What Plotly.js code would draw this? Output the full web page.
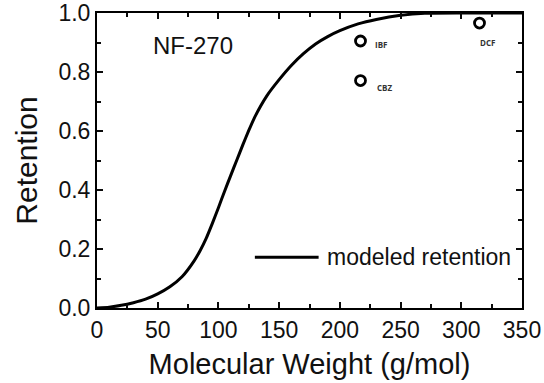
<!DOCTYPE html>
<html>
<head>
<meta charset="utf-8">
<script src="https://cdn.plot.ly/plotly-3.0.1.min.js"></script>
<style>html,body{margin:0;padding:0;background:#fff;}#chart{width:544px;height:383px;}</style>
</head>
<body>
<div id="chart"></div>
<script>
// Modeled retention curve
const modelMW = [0, 10, 20, 30, 40, 50, 60, 70, 80, 85, 90, 95, 100, 105, 110, 115, 120, 125, 130, 140, 150, 160, 170, 180, 190, 200, 215, 230, 250, 270, 300, 350];
const modelRet = [0, 0.003, 0.009, 0.018, 0.030, 0.048, 0.072, 0.106, 0.160, 0.195, 0.237, 0.287, 0.340, 0.395, 0.448, 0.500, 0.552, 0.602, 0.648, 0.720, 0.774, 0.822, 0.862, 0.895, 0.920, 0.940, 0.963, 0.978, 0.992, 0.999, 1.0, 1.0];

// Measured compounds
const compounds = ["IBF", "CBZ", "DCF"];
const compMW = [217, 217, 315];
const compRet = [0.905, 0.771, 0.966];

const FONT = "Liberation Sans, Arial, Helvetica, sans-serif";
const TICKC = "#0a0a0a";

const traces = [
  {x: modelMW, y: modelRet, type: "scatter", mode: "lines", line: {color: "#000", width: 3, shape: "spline", smoothing: 0.5}, name: "modeled retention", showlegend: false, hoverinfo: "skip"},
  {x: compMW, y: compRet, type: "scatter", mode: "markers", marker: {symbol: "circle-open", size: 10, color: "#000", line: {width: 2.8, color: "#000"}}, showlegend: false, cliponaxis: false}
];
// invisible copies so the extra tick axes are drawn
["2", "3", "4"].forEach(k => traces.push({x: modelMW, y: modelRet, xaxis: "x" + k, yaxis: "y" + k, type: "scatter", mode: "lines", line: {color: "rgba(0,0,0,0)", width: 0}, showlegend: false, hoverinfo: "skip"}));

// pixel shifts of the small labels relative to their markers
const labelShift = {IBF: [20, -3], CBZ: [24, -7], DCF: [8, -19]};
const annotations = compounds.map((c, i) => ({
  x: compMW[i], y: compRet[i], xref: "x", yref: "y", xshift: labelShift[c][0], yshift: labelShift[c][1],
  text: "<b>" + c + "</b>", showarrow: false, font: {family: "Open Sans, DejaVu Sans, sans-serif", size: 8, color: "#333"}
}));
annotations.push({x: 0.226, y: 0.891, xref: "paper", yref: "paper", text: "NF-270", showarrow: false, xanchor: "center", yanchor: "middle", font: {family: FONT, size: 24, color: "#111"}});
annotations.push({x: 187.8, y: 0.172, xref: "x", yref: "y", text: "modeled retention", showarrow: false, xanchor: "left", yanchor: "middle", font: {family: FONT, size: 23, color: "#111"}});

function tickAxis(base, extra) {
  return Object.assign({showticklabels: false, ticks: "inside", tickwidth: 2, tickcolor: TICKC, showline: false, showgrid: false, zeroline: false, tickmode: "linear"}, base, extra);
}

const layout = {
  width: 544, height: 383,
  margin: {l: 97, r: 22, t: 13, b: 75},
  paper_bgcolor: "#fff", plot_bgcolor: "rgba(0,0,0,0)",
  font: {family: FONT, color: "#111"},
  xaxis: {
    range: [0, 350], dtick: 50,
    ticks: "inside", ticklen: 6, tickwidth: 2, tickcolor: TICKC,
    showline: true, linecolor: "black", linewidth: 2, mirror: true, showgrid: false, zeroline: false,
    tickfont: {size: 23, family: FONT, color: "#111"},
    title: {text: "Molecular Weight (g/mol)", font: {size: 29, family: FONT, color: "#111"}, standoff: 12}
  },
  yaxis: {
    range: [0, 1], dtick: 0.2, tickformat: ".1f",
    ticks: "inside", ticklen: 6, tickwidth: 2, tickcolor: TICKC,
    showline: true, linecolor: "black", linewidth: 2, mirror: true, showgrid: false, zeroline: false,
    tickfont: {size: 23, family: FONT, color: "#111"},
    title: {text: "Retention", font: {size: 30, family: FONT, color: "#111"}, standoff: 12}
  },
  // top major ticks, bottom minor ticks, top minor ticks
  xaxis2: tickAxis({overlaying: "x", range: [0, 350], side: "top", anchor: "y2", tick0: 0, dtick: 50, ticklen: 6}),
  xaxis3: tickAxis({overlaying: "x", range: [0, 350], side: "bottom", anchor: "y3", tick0: 25, dtick: 50, ticklen: 4}),
  xaxis4: tickAxis({overlaying: "x", range: [0, 350], side: "top", anchor: "y4", tick0: 25, dtick: 50, ticklen: 4}),
  // right major ticks, left minor ticks, right minor ticks
  yaxis2: tickAxis({overlaying: "y", range: [0, 1], side: "right", anchor: "x2", tick0: 0, dtick: 0.2, ticklen: 6}),
  yaxis3: tickAxis({overlaying: "y", range: [0, 1], side: "left", anchor: "x3", tick0: 0.1, dtick: 0.2, ticklen: 4}),
  yaxis4: tickAxis({overlaying: "y", range: [0, 1], side: "right", anchor: "x4", tick0: 0.1, dtick: 0.2, ticklen: 4}),
  shapes: [
    {type: "line", xref: "x", yref: "y", x0: 130, x1: 182.5, y0: 0.172, y1: 0.172, line: {color: "#000", width: 3}}
  ],
  annotations: annotations,
  showlegend: false
};

Plotly.newPlot("chart", traces, layout, {displayModeBar: false});
</script>
</body>
</html>
